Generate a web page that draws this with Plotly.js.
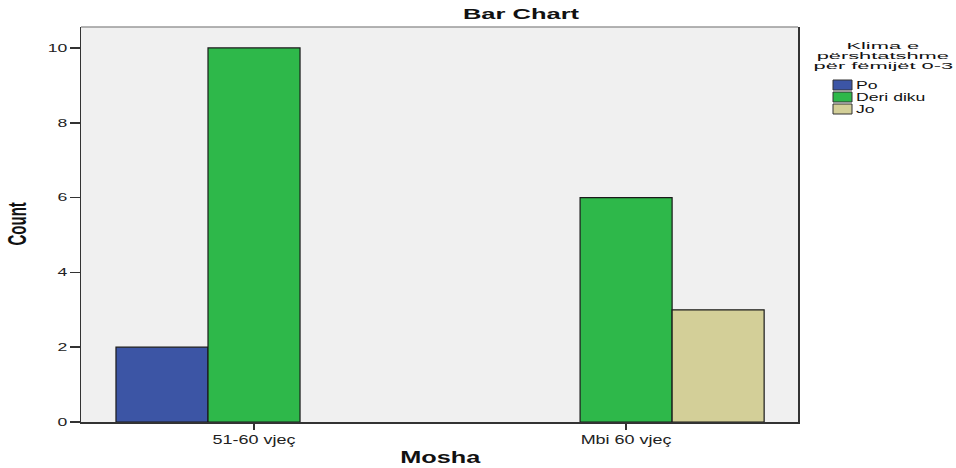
<!DOCTYPE html>
<html>
<head>
<meta charset="utf-8">
<script src="https://cdn.plot.ly/plotly-3.0.1.min.js"></script>
<style>body{margin:0;padding:0;background:#fff;}#chart{width:956px;height:468px;}</style>
</head>
<body>
<div id="chart"></div>
<script>
const categories = ["51-60 vjeç", "Mbi 60 vjeç"];
const seriesNames = ["Po", "Deri diku", "Jo"];
const poValues = [2, 0];
const deriDikuValues = [10, 6];
const joValues = [0, 3];
const seriesColors = ["#3c55a5", "#2eb84a", "#d3cf98"];
const yTicks = [0, 2, 4, 6, 8, 10];
const legendTitleLines = ["Klima e", "përshtatshme", "për fëmijët 0-3"];

const allValues = [poValues, deriDikuValues, joValues];
const FONT = "Liberation Sans, Arial, sans-serif";

const traces = allValues.map((vals, i) => ({
  type: "bar",
  name: seriesNames[i],
  x: categories,
  y: vals,
  marker: {color: seriesColors[i], line: {color: "#1a1a1a", width: vals.map(v => v > 0 ? 1.2 : 0)}},
  showlegend: false,
  hoverinfo: "none"
}));

// plot area in px
const L = 81, R = 798, T = 27, B = 422, W = 956, H = 468;
const pw = R - L, ph = B - T;
const px2paperX = x => (x - L) / pw;
const px2paperY = y => (B - y) / ph;

const shapes = [
  {type: "line", xref: "paper", yref: "paper", x0: 0, x1: 1, y0: 1, y1: 1, line: {color: "#9a9a9a", width: 1.5}}
];
const annotations = [];
const annStretch = [];   // [scale, anchor] per annotation

legendTitleLines.forEach((line, i) => {
  annotations.push({xref: "paper", yref: "paper", x: px2paperX(883), y: px2paperY(45 + i * 10.5),
    xanchor: "center", yanchor: "middle", text: line, showarrow: false,
    font: {family: FONT, size: 9.5, color: "#111"}});
  annStretch.push([2.3, "center"]);
});

annotations.push({xref: "paper", yref: "paper", x: px2paperX(17), y: 0.5, xanchor: "center", yanchor: "middle",
  text: "<b>Count</b>", textangle: -90, showarrow: false,
  font: {family: FONT, size: 15, color: "#111"}});
annStretch.push([1.7, "center"]);

annotations.push({xref: "paper", yref: "paper", x: px2paperX(440), y: px2paperY(457), xanchor: "center", yanchor: "middle",
  text: "<b>Mosha</b>", showarrow: false,
  font: {family: FONT, size: 16, color: "#111"}});
annStretch.push([1.58, "center"]);

seriesNames.forEach((name, i) => {
  const yc = 85 + i * 12;
  shapes.push({type: "rect", xref: "paper", yref: "paper",
    x0: px2paperX(833), x1: px2paperX(852), y0: px2paperY(yc - 5), y1: px2paperY(yc + 5),
    fillcolor: seriesColors[i], line: {color: "#333", width: 1}});
  annotations.push({xref: "paper", yref: "paper", x: px2paperX(854), y: px2paperY(yc),
    xanchor: "left", yanchor: "middle", text: name, showarrow: false,
    font: {family: FONT, size: 11, color: "#111"}});
  annStretch.push([1.6, "left"]);
});

const layout = {
  width: W, height: H,
  margin: {l: L, r: W - R, t: T, b: H - B, pad: 0},
  paper_bgcolor: "#ffffff",
  plot_bgcolor: "#f0f0f0",
  title: {text: "<b>Bar Chart</b>", xref: "container", yref: "container",
          x: 521 / W, y: 1 - 14 / H, xanchor: "center", yanchor: "middle",
          font: {family: FONT, size: 15, color: "#111"}},
  barmode: "group",
  bargap: 0.258,
  bargroupgap: 0,
  showlegend: false,
  xaxis: {
    type: "category",
    range: [-0.465, 1.462],
    showline: true, linecolor: "#333", linewidth: 1.5, mirror: false,
    ticks: "outside", ticklen: 6, tickcolor: "#333", tickwidth: 1.5,
    showgrid: false, zeroline: false,
    tickfont: {family: FONT, size: 12, color: "#222"}
  },
  yaxis: {
    range: [0, 10.56],
    tickvals: yTicks,
    showline: true, linecolor: "#333", linewidth: 1.5, mirror: true,
    ticks: "outside", ticklen: 10, tickcolor: "#333", tickwidth: 1.5,
    showgrid: false, zeroline: false,
    tickfont: {family: FONT, size: 11, color: "#222"}
  },
  shapes: shapes,
  annotations: annotations
};

// horizontal stretch of rendered text in screen space (the reference's text is wide)
function stretchText(el, k, anchor) {
  const svg = el.ownerSVGElement;
  const r = el.getBoundingClientRect();
  const s = svg.getBoundingClientRect();
  let ax;
  if (anchor === "left") ax = r.left - s.left;
  else if (anchor === "right") ax = r.right - s.left;
  else ax = (r.left + r.right) / 2 - s.left;
  const M = el.getCTM();
  const S = svg.createSVGMatrix().translate(ax, 0).scaleNonUniform(k, 1).translate(-ax, 0);
  const X = M.inverse().multiply(S).multiply(M);
  const old = el.getAttribute("transform") || "";
  el.setAttribute("transform", old + ` matrix(${X.a},${X.b},${X.c},${X.d},${X.e},${X.f})`);
}

Plotly.newPlot("chart", traces, layout, {staticPlot: true, displayModeBar: false}).then(gd => {
  gd.querySelectorAll(".xtick text").forEach(t => stretchText(t, 1.5, "center"));
  gd.querySelectorAll(".ytick text").forEach(t => stretchText(t, 1.6, "right"));
  const tt = gd.querySelector(".gtitle");
  if (tt) stretchText(tt, 1.7, "center");
  gd.querySelectorAll(".annotation").forEach(a => {
    const idx = +a.getAttribute("data-index");
    const t = a.querySelector("text");
    if (t && annStretch[idx]) stretchText(t, annStretch[idx][0], annStretch[idx][1]);
  });
});
</script>
</body>
</html>
